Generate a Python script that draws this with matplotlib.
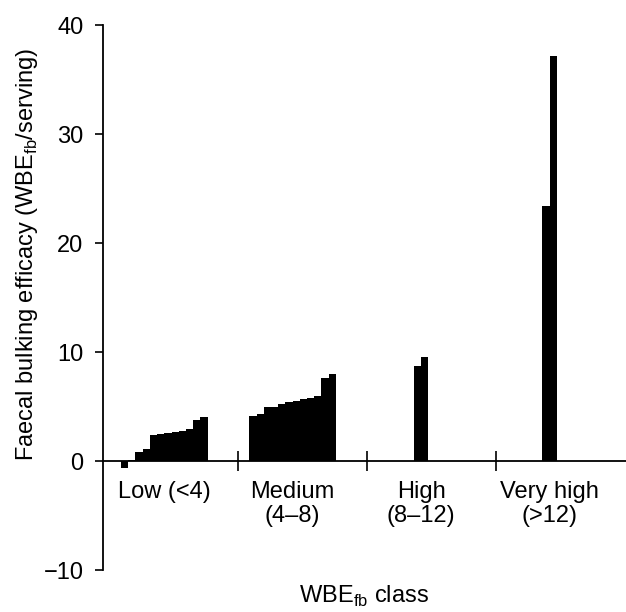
import numpy as np
import matplotlib
matplotlib.use("Agg")
import matplotlib.pyplot as plt

plt.rcParams['font.family'] = ['Liberation Sans', 'DejaVu Sans']

# WBE_fb per serving, sorted within each class
low = [-0.67, 0.1, 0.86, 1.07, 2.4, 2.45, 2.6, 2.7, 2.8, 2.97, 3.76, 4.07]
medium = [4.1, 4.3, 4.95, 4.95, 5.2, 5.4, 5.55, 5.7, 5.8, 5.95, 7.6, 8.0]
high = [8.74, 9.5]
very_high = [23.4, 37.2]

groups = [low, medium, high, very_high]
class_labels = ["Low (<4)", "Medium\n(4\u20138)", "High\n(8\u201312)", "Very high\n(>12)"]

# layout: start of each group of bars (class units), bar width
group_start = [0.093, 1.088, 2.364, 3.362]
bw = 0.056
fs = 17

fig = plt.figure(figsize=(6.26, 6.12), dpi=100)
ax = fig.add_axes([0.1645, 0.0686, 0.8355, 0.8905])

for start, vals, lab in zip(group_start, groups, class_labels):
    xs = start + bw * np.arange(len(vals))
    ax.bar(xs, vals, width=bw, align='edge', color='black', edgecolor='none')
    centre = start + bw * len(vals) / 2
    ax.text(centre, -1.8, lab, ha='center', va='top', fontsize=fs, linespacing=1.15)

ax.set_xlim(-0.047, 4.01)
ax.set_ylim(-10, 40)
ax.set_yticks([-10, 0, 10, 20, 30, 40])
ax.set_yticklabels(["\u221210", "0", "10", "20", "30", "40"])
ax.set_xticks([1, 2, 3])
ax.set_xticklabels([])

ax.spines['top'].set_visible(False)
ax.spines['right'].set_visible(False)
ax.spines['bottom'].set_position(('data', 0))
ax.spines['left'].set_linewidth(1.3)
ax.spines['bottom'].set_linewidth(1.3)

ax.tick_params(axis='y', direction='out', length=6, width=1.2, pad=8, labelsize=fs)
ax.tick_params(axis='x', direction='inout', length=14, width=1.2)

ax.set_ylabel("Faecal bulking efficacy (WBE$_{\\mathregular{fb}}$/serving)", fontsize=fs)
ax.yaxis.set_label_coords(-0.12, 0.58)
ax.set_xlabel("WBE$_{\\mathregular{fb}}$ class", fontsize=fs)
ax.xaxis.set_label_coords(0.5, -0.026)
ax.xaxis.label.set_va('top')

fig.savefig("out.png", dpi=100)
